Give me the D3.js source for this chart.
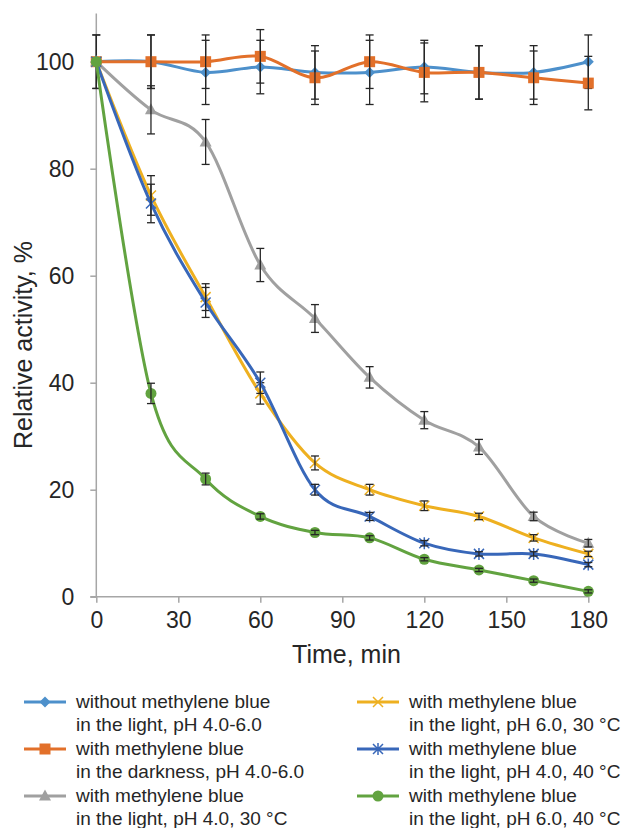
<!DOCTYPE html>
<meta charset="utf-8">
<style>
  body {
    margin: 0;
    background: #fff;
  }
  text {
    font-family: "Liberation Sans", Arial, sans-serif;
    fill: #262626;
  }
</style>
<body>
</body>
<script src="https://cdn.jsdelivr.net/npm/d3@7/dist/d3.min.js"></script>
<script>

// sampling times, min
var times = [0, 20, 40, 60, 80, 100, 120, 140, 160, 180];

// relative activity, % (and error bar half-widths)
var noDyeLight    = [100, 100, 98, 99, 98, 98, 99, 98, 98, 100];
var noDyeLightErr = [5, 5, 6, 5, 5, 6, 5, 5, 5, 5];
var dyeDark       = [100, 100, 100, 101, 97, 100, 98, 98, 97, 96];
var dyeDarkErr    = [5, 5, 5, 5, 5, 5, 5.5, 5, 5, 5];
var ph4t30        = [100, 91, 85, 62, 52, 41, 33, 28, 15, 10];
var ph4t30Err     = [0, 4.5, 4.2, 3.1, 2.6, 2, 1.6, 1.4, 0.8, 0.7];
var ph6t30        = [100, 75, 56, 38, 25, 20, 17, 15, 11, 8];
var ph6t30Err     = [0, 3.7, 2.5, 2, 1.3, 1, 0.9, 0.6, 0.6, 0.5];
var ph4t40        = [100, 73.5, 55, 40, 20, 15, 10, 8, 8, 6];
var ph4t40Err     = [0, 3.6, 2.8, 2, 1, 0.75, 0.5, 0.4, 0.4, 0.4];
var ph6t40        = [100, 38, 22, 15, 12, 11, 7, 5, 3, 1];
var ph6t40Err     = [0, 1.9, 1.1, 0.5, 0.4, 0.4, 0.3, 0.3, 0.3, 0.3];

var xTicks = [0, 30, 60, 90, 120, 150, 180];
var yTicks = [0, 20, 40, 60, 80, 100];

var series = [
  {values: noDyeLight, err: noDyeLightErr, color: "#4d90cb", marker: "diamond",
   label: ["without methylene blue", "in the light, pH 4.0-6.0"]},
  {values: dyeDark, err: dyeDarkErr, color: "#e2702a", marker: "square",
   label: ["with methylene blue", "in the darkness, pH 4.0-6.0"]},
  {values: ph4t30, err: ph4t30Err, color: "#a0a0a0", marker: "triangle",
   label: ["with methylene blue", "in the light, pH 4.0, 30 \u00b0C"]},
  {values: ph6t30, err: ph6t30Err, color: "#eeb020", marker: "x",
   label: ["with methylene blue", "in the light, pH 6.0, 30 \u00b0C"]},
  {values: ph4t40, err: ph4t40Err, color: "#3867b9", marker: "star",
   label: ["with methylene blue", "in the light, pH 4.0, 40 \u00b0C"]},
  {values: ph6t40, err: ph6t40Err, color: "#62a340", marker: "circle",
   label: ["with methylene blue", "in the light, pH 6.0, 40 \u00b0C"]}
];

var width = 622, height = 828;

var x = d3.scaleLinear().domain([0, 180]).range([96.3, 588.3]);
var y = d3.scaleLinear().domain([0, 100]).range([596.7, 61.7]);

var svg = d3.select("body").append("svg")
    .attr("width", width)
    .attr("height", height);

// axes
var axisColor = "#a6a6a6";

svg.append("line")
    .attr("x1", x(0)).attr("x2", x(0))
    .attr("y1", y(109)).attr("y2", y(0))
    .style("stroke", axisColor).style("stroke-width", 1.5);

var xAxis = svg.append("g")
    .attr("transform", "translate(0," + y(0) + ")")
    .call(d3.axisBottom(x).tickValues(xTicks).tickSize(6).tickPadding(9).tickSizeOuter(0));

var yAxis = svg.append("g")
    .attr("transform", "translate(" + x(0) + ",0)")
    .call(d3.axisLeft(y).tickValues(yTicks).tickSize(6).tickPadding(16).tickSizeOuter(0));

[xAxis, yAxis].forEach(function(g) {
  g.select(".domain").remove();
  g.selectAll("line").style("stroke", axisColor).style("stroke-width", 1.5);
  g.selectAll("text")
      .style("font-size", "23px")
      .style("font-family", "'Liberation Sans', Arial, sans-serif")
      .style("fill", "#262626");
});

svg.append("line")
    .attr("x1", x(0) - 6).attr("x2", x(180))
    .attr("y1", y(0)).attr("y2", y(0))
    .style("stroke", axisColor).style("stroke-width", 1.5);

svg.append("text")
    .attr("x", 346.5)
    .attr("y", 662.5)
    .attr("text-anchor", "middle")
    .style("font-size", "25px")
    .text("Time, min");

svg.append("text")
    .attr("transform", "translate(31.5,345) rotate(-90)")
    .attr("text-anchor", "middle")
    .style("font-size", "25px")
    .text("Relative activity, %");

// markers
function drawMarker(g, type, color, cx, cy) {
  if (type == "diamond") {
    g.append("path")
        .attr("d", "M0,-5.5L5.5,0L0,5.5L-5.5,0Z")
        .attr("transform", "translate(" + cx + "," + cy + ")")
        .style("fill", color);
  } else if (type == "square") {
    g.append("rect")
        .attr("x", cx - 5.5).attr("y", cy - 5.5)
        .attr("width", 11).attr("height", 11)
        .style("fill", color);
  } else if (type == "triangle") {
    g.append("path")
        .attr("d", "M0,-6.5L6,4.5L-6,4.5Z")
        .attr("transform", "translate(" + cx + "," + cy + ")")
        .style("fill", color);
  } else if (type == "circle") {
    g.append("circle")
        .attr("cx", cx).attr("cy", cy).attr("r", 5.5)
        .style("fill", color);
  } else {
    var d = "M-5,-5L5,5M5,-5L-5,5";
    if (type == "star") d += "M0,-6L0,6";
    g.append("path")
        .attr("d", d)
        .attr("transform", "translate(" + cx + "," + cy + ")")
        .style("fill", "none")
        .style("stroke", color)
        .style("stroke-width", 1.5);
  }
}

var line = d3.line()
    .curve(d3.curveCatmullRom.alpha(0))
    .x(function(d) { return x(d[0]); })
    .y(function(d) { return y(d[1]); });

var plot = svg.append("g");

series.forEach(function(s) {
  var pts = times.map(function(t, i) { return [t, s.values[i]]; });
  var g = plot.append("g");

  g.append("path")
      .datum(pts)
      .attr("d", line)
      .style("fill", "none")
      .style("stroke", s.color)
      .style("stroke-width", 3);

  pts.forEach(function(p) {
    drawMarker(g, s.marker, s.color, x(p[0]), y(p[1]));
  });

  // error bars
  times.forEach(function(t, i) {
    var e = s.err[i];
    if (!e) return;
    var eb = g.append("g").style("stroke", "#262626").style("stroke-width", 1.3);
    eb.append("line")
        .attr("x1", x(t)).attr("x2", x(t))
        .attr("y1", y(s.values[i] + e)).attr("y2", y(s.values[i] - e));
    [e, -e].forEach(function(v) {
      eb.append("line")
          .attr("x1", x(t) - 4).attr("x2", x(t) + 4)
          .attr("y1", y(s.values[i] + v)).attr("y2", y(s.values[i] + v));
    });
  });
});

// legend
var legend = svg.append("g");

series.forEach(function(s, i) {
  var col = Math.floor(i / 3), row = i % 3;
  var lx = col == 0 ? 24 : 357;
  var ly = 708 + row * 47;
  var g = legend.append("g");

  g.append("line")
      .attr("x1", lx).attr("x2", lx + 42)
      .attr("y1", ly - 6).attr("y2", ly - 6)
      .style("stroke", s.color)
      .style("stroke-width", 3);
  drawMarker(g, s.marker, s.color, lx + 21, ly - 6);

  s.label.forEach(function(txt, j) {
    g.append("text")
        .attr("x", lx + 52)
        .attr("y", ly + j * 23)
        .style("font-size", "19px")
        .text(txt);
  });
});

</script>
